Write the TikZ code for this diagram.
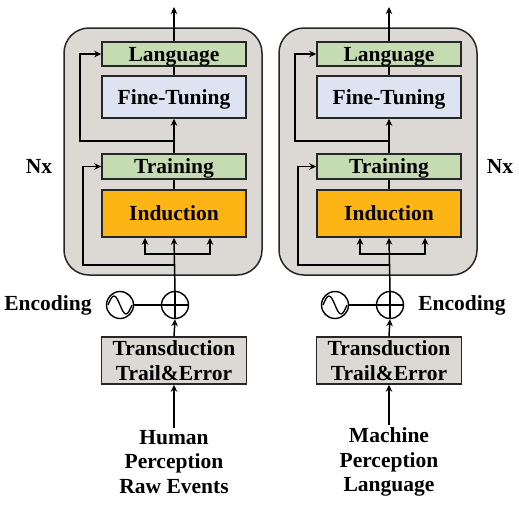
\documentclass[tikz,border=0pt]{standalone}
\usepackage{fontspec}
\setmainfont{Liberation Serif}
\usetikzlibrary{arrows.meta,positioning,calc}
\definecolor{panelgray}{HTML}{DCD8D3}
\definecolor{greenfill}{HTML}{C5DCB3}
\definecolor{tunefill}{HTML}{DEE3F1}
\definecolor{indfill}{HTML}{FDB515}

\begin{document}
\begin{tikzpicture}[x=1pt,y=-1pt,
	every node/.style={font=\fontsize{21.5}{24.5}\selectfont\bfseries},
	panel/.style={draw=black!85,fill=panelgray,line width=1.5pt,rounded corners=25pt},
	block/.style={draw=black!85,line width=1.5pt,minimum width=144pt,inner sep=0pt,text depth=0pt},
	ring/.style={circle,draw=black,line width=1.4pt,minimum size=27pt,inner sep=0pt},
	ln/.style={line width=1.5pt},
	arr/.style={line width=1.5pt,-{Stealth[length=7pt,width=6.5pt]}}]
	\useasboundingbox (0,0) rectangle (519,504);
	\foreach \s/\dx/\src in {l/0/{Human\\Perception\\Raw Events},r/215/{Machine\\Perception\\Language}}{
		\node[panel,minimum width=198pt,minimum height=247pt] (panel\s) at (163+\dx,151.5) {};
		\node[block,fill=greenfill,minimum height=24pt] (lang\s) at (174+\dx,54) {Language};
		\node[block,fill=tunefill,minimum height=42pt] (tune\s) at (174+\dx,97) {Fine-Tuning};
		\node[block,fill=greenfill,minimum height=25pt] (train\s) at (174+\dx,166.5) {Training};
		\node[block,fill=indfill,minimum height=47pt] (ind\s) at (174+\dx,213.5) {Induction};
		\node[ring] (plus\s) at (175+\dx,305) {};
		\node[ring] (wave\s) at (120+\dx,305) {};
		\node[block,fill=panelgray,minimum width=145pt,minimum height=47pt,align=center] (trans\s) at (174+\dx,360.5) {Transduction\\Trail\&Error};
		\node[align=center,inner sep=2pt] (src\s) at (174+\dx,462) {\src};
		\coordinate (out\s) at (174+\dx,7);
		\coordinate (split\s) at (174+\dx,254);
		\coordinate (forka\s) at (174+\dx,141);
		\coordinate (forkb\s) at (174+\dx,265);
		% inner flow
		\draw[arr] (src\s.north) -- (trans\s.south);
		\draw[arr] (trans\s.north) -- (plus\s.south);
		\draw[ln] (plus\s.north) -- (plus\s.south) (plus\s.west) -- (plus\s.east);
		\draw[ln] (wave\s) -- (plus\s);
		\draw[line width=1.3pt] ([xshift=-12pt]wave\s.center) sin ++(6,-9) cos ++(6,9) sin ++(6,9) cos ++(6,-9);
		\draw[arr] (plus\s.north) -- (ind\s.south);
		\draw[arr] (split\s) -| ([xshift=-29pt]ind\s.south);
		\draw[arr] (split\s) -| ([xshift=36pt]ind\s.south);
		\draw[ln] (ind\s.north) -- (train\s.south);
		\draw[arr] (train\s.north) -- (tune\s.south);
		\draw[ln] (tune\s.north) -- (lang\s.south);
		\draw[arr] (lang\s.north) -- (out\s);
		% bypass
		\draw[arr] (forkb\s) -- ++(-91,0) |- (train\s.west);
		\draw[arr] (forka\s) -- ++(-94,0) |- (lang\s.west);
	}
	\node (nxl) at (39,166) {Nx};
	\node (nxr) at (500,166) {Nx};
	\node (encl) at (48,305) {Encoding};
	\node (encr) at (462,305) {Encoding};
\end{tikzpicture}
\end{document}
